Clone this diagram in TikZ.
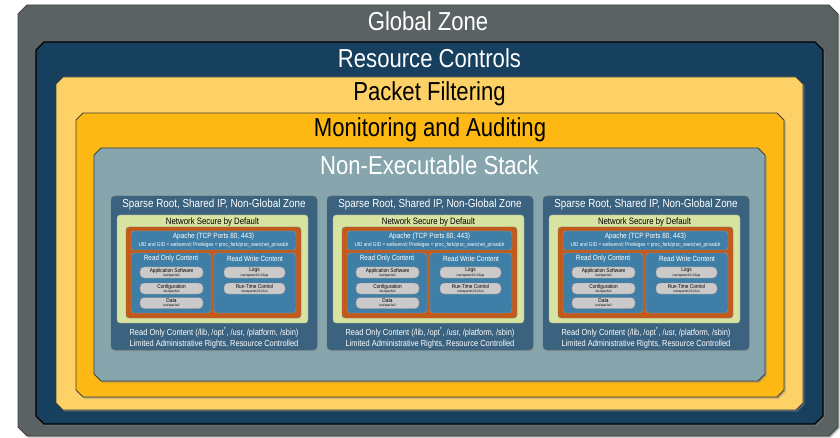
\documentclass[tikz,border=0pt]{standalone}
\usepackage{fontspec}
\setmainfont[FakeStretch=0.85]{Liberation Sans}
\usetikzlibrary{shadows}

\definecolor{gzgray}{HTML}{5B6263}
\definecolor{rcnavy}{HTML}{173F5E}
\definecolor{pfyellow}{HTML}{FED167}
\definecolor{maorange}{HTML}{FDB813}
\definecolor{nesblue}{HTML}{86A5AD}
\definecolor{ngzblue}{HTML}{3B6380}
\definecolor{netgreen}{HTML}{D7E3A0}
\definecolor{apframe}{HTML}{C45A1A}
\definecolor{apblue}{HTML}{3F7FA7}
\definecolor{pillgray}{HTML}{CACACA}

% chamfered zone outline: [style]{x1}{y1}{x2}{y2}{chamfer}
\newcommand{\zonebox}[6][]{%
  \path[zone, #1] (#2+#6, #3) -- (#4-#6, #3) -- (#4, #3+#6) -- (#4, #5-#6)
    -- (#4-#6, #5) -- (#2+#6, #5) -- (#2, #5-#6) -- (#2, #3+#6) -- cycle;}

\tikzset{
  zone/.style={draw=black!75, line width=0.8pt,
    drop shadow={opacity=0.55, shadow xshift=1.5pt, shadow yshift=-1.5pt}},
  zonetitle/.style={font=\fontsize{26}{28}\selectfont, inner sep=0pt},
  ngzbox/.style={draw=black!60, fill=ngzblue, rounded corners=4pt, inner sep=0pt,
    drop shadow={opacity=0.5, shadow xshift=1.2pt, shadow yshift=-1.2pt}},
  inbox/.style={rounded corners=3pt, inner sep=0pt},
  pill/.style={draw=black!45, fill=pillgray, rounded corners=4pt, inner sep=0pt,
    minimum height=11pt},
  pilltitle/.style={font=\fontsize{5.6}{6}\selectfont, inner sep=0pt},
  pillpath/.style={font=\fontsize{3.4}{4}\selectfont, inner sep=0pt},
}

\begin{document}
\begin{tikzpicture}[x=1pt, y=-1pt]
  \useasboundingbox (0,0) rectangle (840,438);

  % nested zones, outside in
  \zonebox[fill=gzgray]{18}{5}{838}{436}{9}
  \zonebox[fill=rcnavy, draw=black, line width=1.2pt]{36}{42}{823}{424}{8}
  \zonebox[fill=pfyellow]{56}{77}{803}{410}{7}
  \zonebox[fill=maorange]{76}{113}{784}{397}{7}
  \zonebox[fill=nesblue]{94}{148}{765}{381}{7}

  \node (gztitle) at (428, 21) [zonetitle, text=white] {Global Zone};
  \node (rctitle) at (429.5, 58) [zonetitle, text=white] {Resource Controls};
  \node (pftitle) at (429.5, 94) [zonetitle] {Packet Filtering};
  \node (matitle) at (430, 130) [zonetitle] {Monitoring and Auditing};
  \node (nestitle) at (429.5, 165) [zonetitle, text=white] {Non-Executable Stack};

  % the three non-global zones
  \foreach \k in {0,1,2} {
    \begin{scope}[xshift=216*\k pt]
      \node (ngz\k) at (214, 273) [ngzbox, minimum width=206pt, minimum height=154pt] {};
      \node (ngztitle\k) at (214, 205) [text=white, font=\fontsize{11.6}{12}\selectfont]
        {Sparse Root, Shared IP, Non-Global Zone};

      \node (net\k) at (212.5, 269) [inbox, fill=netgreen, draw=black!35,
        minimum width=191pt, minimum height=108pt] {};
      \node (nettitle\k) at (212.5, 222) [font=\fontsize{9.2}{10}\selectfont, inner sep=0pt]
        {Network Secure by Default};

      \node (apf\k) at (213.5, 272.5) [inbox, fill=apframe, draw=black!50,
        minimum width=175pt, minimum height=91pt] {};
      \node (apache\k) at (213.5, 240.5) [inbox, fill=apblue, draw=black!40,
        minimum width=165pt, minimum height=19pt] {};
      \node (aptitle\k) at (213.5, 236.5) [text=white, font=\fontsize{7.6}{8}\selectfont, inner sep=0pt]
        {Apache (TCP Ports 80, 443)};
      \node (apsub\k) at (213.5, 244.6) [text=white, font=\fontsize{5.5}{6}\selectfont, inner sep=0pt]
        {UID and GID = webservd; Privileges = proc\_fork/proc\_exec/net\_privaddr};

      \node (ro\k) at (171, 283) [inbox, fill=apblue, draw=black!40,
        minimum width=80pt, minimum height=60pt] {};
      \node (rw\k) at (255, 283) [inbox, fill=apblue, draw=black!40,
        minimum width=82pt, minimum height=60pt] {};
      \node (rotitle\k) at (171, 258.5) [text=white, font=\fontsize{7.5}{8}\selectfont, inner sep=0pt]
        {Read Only Content};
      \node (rwtitle\k) at (255, 258.5) [text=white, font=\fontsize{7.5}{8}\selectfont, inner sep=0pt]
        {Read Write Content};

      % read only pills
      \node (appsw\k) at (171.5, 272.5) [pill, minimum width=63pt] {};
      \node (appswt\k) at (171.5, 270.6) [pilltitle] {Application Software};
      \node (appswp\k) at (171.5, 275.2) [pillpath] {/var/apache2};
      \node (conf\k) at (171.5, 288.5) [pill, minimum width=63pt] {};
      \node (conft\k) at (171.5, 286.6) [pilltitle] {Configuration};
      \node (confp\k) at (171.5, 291.2) [pillpath] {/etc/apache2};
      \node (data\k) at (171.5, 303) [pill, minimum width=63pt] {};
      \node (datat\k) at (171.5, 301.1) [pilltitle] {Data};
      \node (datap\k) at (171.5, 305.7) [pillpath] {/var/apache2};

      % read write pills
      \node (logs\k) at (254.5, 272.5) [pill, minimum width=61pt] {};
      \node (logst\k) at (254.5, 270.6) [pilltitle] {Logs};
      \node (logsp\k) at (254.5, 275.2) [pillpath] {/var/apache2/2.2/logs};
      \node (rtc\k) at (254.5, 288.5) [pill, minimum width=61pt] {};
      \node (rtct\k) at (254.5, 286.6) [pilltitle] {Run-Time Control};
      \node (rtcp\k) at (254.5, 291.2) [pillpath] {/var/apache2/2.2/run};

      \node (ngzfoot\k) at (214, 337.5) [text=white, align=center, inner sep=0pt,
        font=\fontsize{8.8}{11}\selectfont]
        {Read Only Content (/lib, /opt\textsuperscript{*}, /usr, /platform, /sbin)\\
         Limited Administrative Rights, Resource Controlled};
    \end{scope}
  }
\end{tikzpicture}
\end{document}
